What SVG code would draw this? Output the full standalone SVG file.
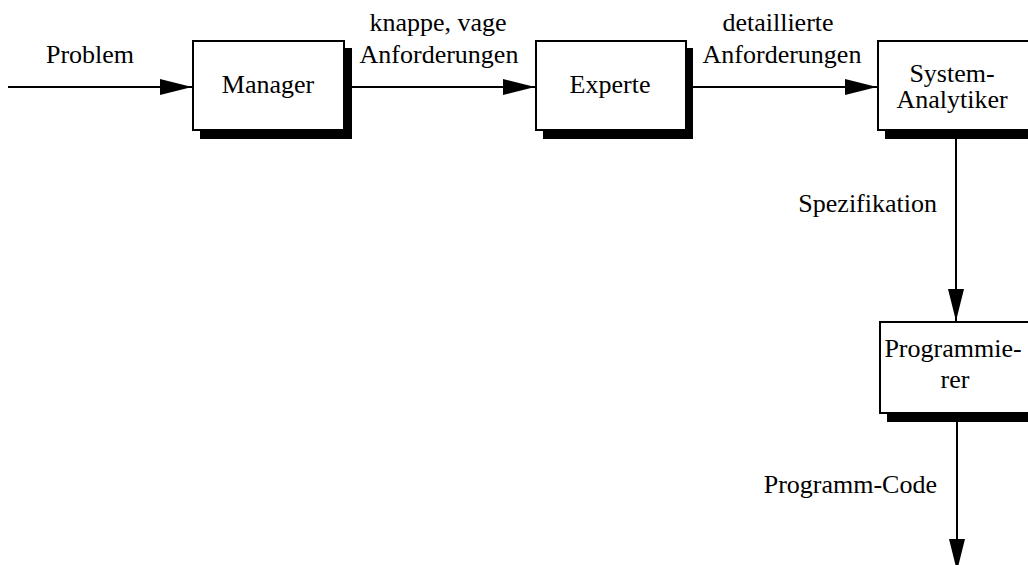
<svg xmlns="http://www.w3.org/2000/svg" width="1028" height="565" viewBox="0 0 1028 565" font-family="'Liberation Serif', 'DejaVu Serif', serif">
  <style>
    text { font-family: 'Liberation Serif', 'DejaVu Serif', serif; font-size: 26px; fill: #000; }
    .c { text-anchor: middle; }
    .e { text-anchor: end; }
    .box { fill: #fff; stroke: #000; stroke-width: 2; }
    .shadow { fill: #000; }
    .flow { fill: none; stroke: #000; stroke-width: 2; marker-end: url(#head); }
  </style>
  <defs>
    <marker id="head" markerUnits="userSpaceOnUse" markerWidth="32" markerHeight="16" refX="32" refY="8" orient="auto">
      <path d="M0,0 L32,8 L0,16 z" fill="#000"/>
    </marker>
  </defs>

  <rect width="1028" height="565" fill="#fff"/>

  <!-- connectors and their labels -->
  <g id="connectors">
    <path class="flow" d="M8,87 H192"/>
    <text class="c" x="90" y="63">Problem</text>
    <path class="flow" d="M352,87 H535"/>
    <text class="c" x="438" y="31">knappe, vage</text>
    <text class="c" x="439" y="63">Anforderungen</text>
    <path class="flow" d="M693,87 H877"/>
    <text class="c" x="778" y="31">detaillierte</text>
    <text class="c" x="782" y="63">Anforderungen</text>
    <path class="flow" d="M956,139 V321"/>
    <text class="e" x="937" y="212">Spezifikation</text>
    <path class="flow" d="M957,422 V571"/>
    <text class="e" x="937" y="493">Programm-Code</text>
  </g>

  <!-- nodes: white box over a black drop shadow -->
  <g id="manager">
    <rect class="shadow" x="200" y="48" width="152" height="91"/>
    <rect class="box" x="193" y="41" width="151" height="89"/>
    <text class="c" x="268" y="93">Manager</text>
  </g>
  <g id="experte">
    <rect class="shadow" x="543" y="48" width="150" height="91"/>
    <rect class="box" x="536" y="41" width="150" height="89"/>
    <text class="c" x="610" y="93">Experte</text>
  </g>
  <g id="system-analytiker">
    <rect class="shadow" x="885" y="48" width="152" height="91"/>
    <rect class="box" x="878" y="41" width="152" height="89"/>
    <text class="c" x="952" y="82">System-</text>
    <text class="c" x="952" y="108">Analytiker</text>
  </g>
  <g id="programmierer">
    <rect class="shadow" x="887" y="330" width="152" height="92"/>
    <rect class="box" x="880" y="322" width="152" height="91"/>
    <text class="c" x="953" y="357">Programmie-</text>
    <text class="c" x="955" y="388">rer</text>
  </g>
</svg>
